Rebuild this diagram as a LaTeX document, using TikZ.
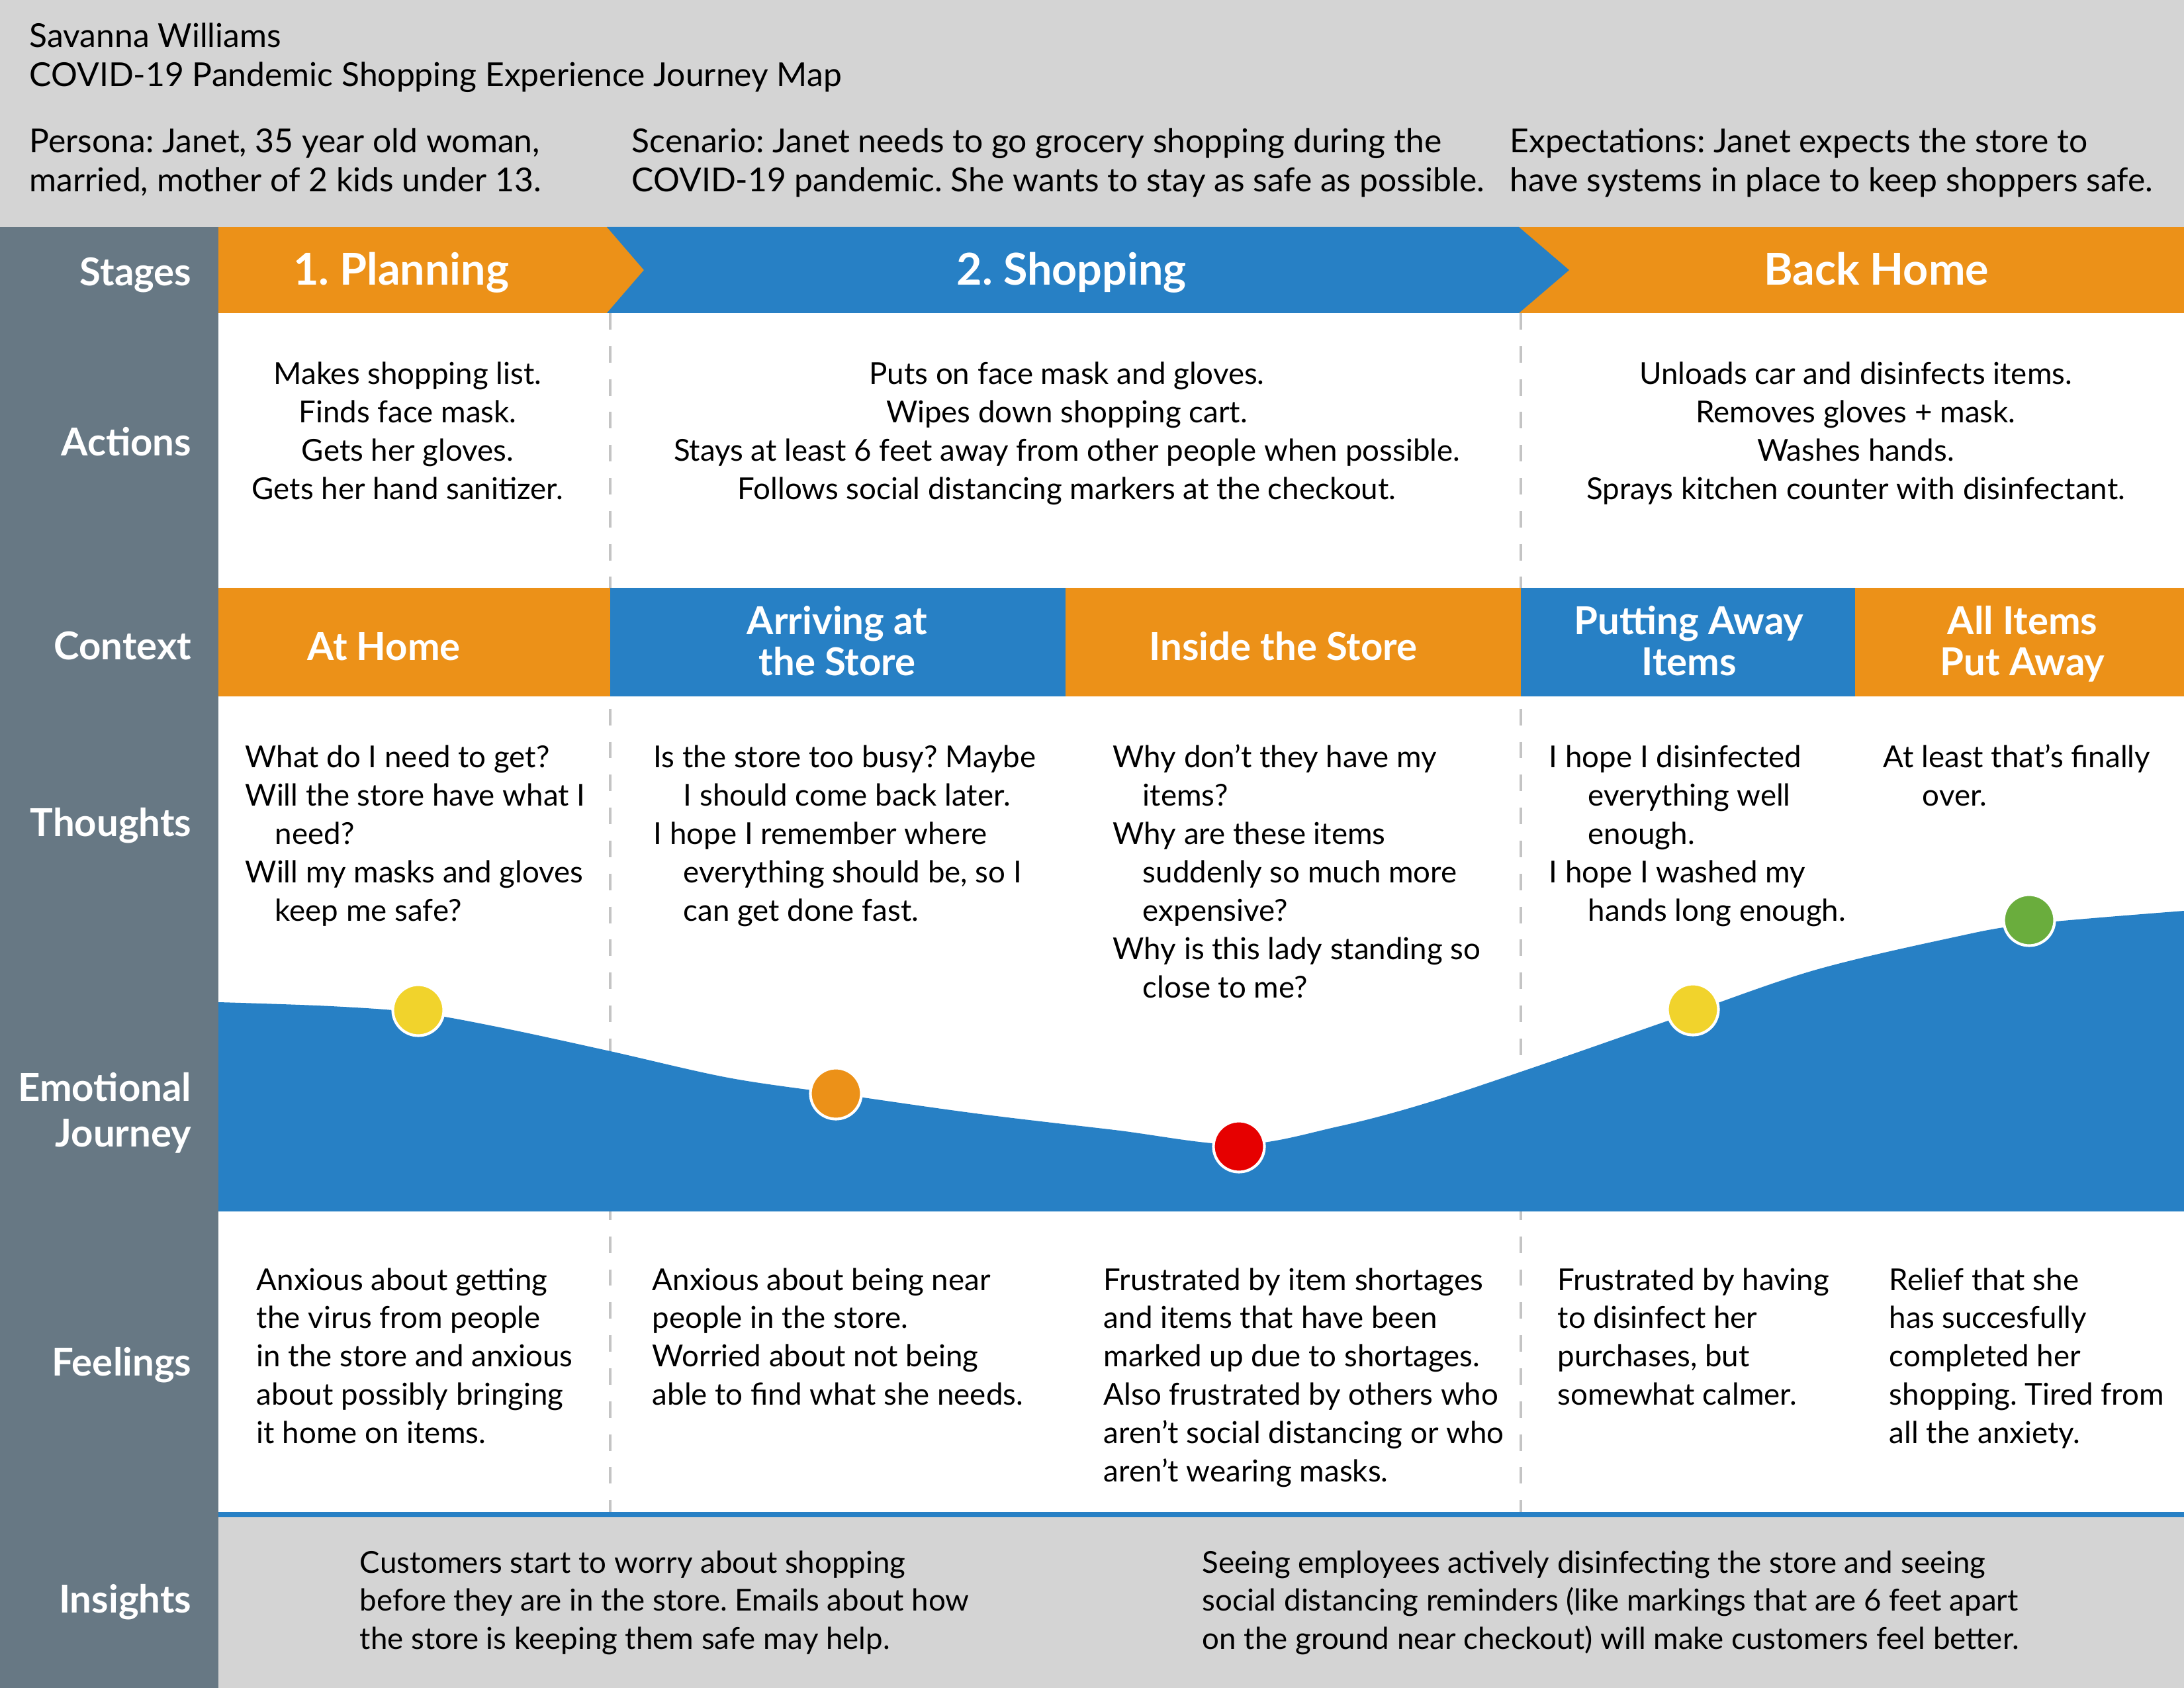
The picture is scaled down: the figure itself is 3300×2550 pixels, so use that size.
\documentclass[tikz,border=0pt]{standalone}
\usepackage{fontspec}
\setmainfont{Lato}
\frenchspacing
\newlength\pxu
\setlength\pxu{0.2409pt}
\newcommand\hdrfont{\fontsize{12pt}{14.2pt}\selectfont}
\newcommand\bodyfont{\fontsize{11pt}{13.97pt}\selectfont}
\newcommand\lblfont{\fontsize{14pt}{14.9pt}\selectfont\bfseries}
\newcommand\stgfont{\fontsize{16pt}{18pt}\selectfont\bfseries}
\newcommand\ind{\hspace*{45\pxu}}
\newcommand\wideind{\hspace*{59\pxu}}
\definecolor{hdrgray}{HTML}{D4D4D4}
\definecolor{slate}{HTML}{677884}
\definecolor{jorange}{HTML}{EC9118}
\definecolor{jblue}{HTML}{2780C5}
\definecolor{jyellow}{HTML}{F1D32C}
\definecolor{jred}{HTML}{E60000}
\definecolor{jgreen}{HTML}{6AAD3D}
\definecolor{dashgray}{HTML}{C4C4C4}
\tikzset{
  lefttext/.style={inner sep=0pt, anchor=base west},
  midtext/.style={inner sep=0pt, anchor=base},
  rowlabel/.style={inner sep=0pt, anchor=base east, text=white, font=\lblfont},
  ctxlabel/.style={inner sep=0pt, anchor=base, text=white},
  stagelabel/.style={inner sep=0pt, anchor=base, text=white, font=\stgfont},
  divider/.style={draw=dashgray, line width=1pt, dash pattern=on 6pt off 6pt},
  mooddot/.style={circle, inner sep=0pt, minimum size=77\pxu, draw=white, line width=1pt}
}
\begin{document}
\begin{tikzpicture}[x=0.2409pt,y=-0.2409pt]
\useasboundingbox (0,0) rectangle (3300,2550);
% backgrounds
\fill[white] (0,0) rectangle (3300,2550);
\fill[hdrgray] (0,0) rectangle (3300,343);
\fill[slate] (0,343) rectangle (330,2550);
\fill[hdrgray] (330,2292) rectangle (3300,2550);
\fill[jblue] (330,2284) rectangle (3300,2292);

% column dividers
\draw[divider] (922,473) -- (922,2284);
\draw[divider] (2298,473) -- (2298,2284);

% stage band
\fill[jorange] (330,343) rectangle (3300,473);
\fill[jblue] (917,343) -- (2295,343) -- (2371,408) -- (2295,473) -- (917,473) -- (973,408) -- cycle;

% context row
\fill[jorange] (330,888) rectangle (922,1052);
\fill[jblue] (922,888) rectangle (1610,1052);
\fill[jorange] (1610,888) rectangle (2298,1052);
\fill[jblue] (2298,888) rectangle (2803,1052);
\fill[jorange] (2803,888) rectangle (3300,1052);

% emotional curve
\fill[jblue] plot[smooth, tension=0.55] coordinates {(330,1514) (500,1520) (632,1530) (760,1553) (922,1588) (1100,1628) (1263,1652) (1474,1682) (1684,1707) (1872,1729) (2021,1702) (2150,1668) (2316,1613) (2526,1540) (2737,1467) (2947,1417) (3066,1396) (3300,1376)} -- (3300,1830) -- (330,1830) -- cycle;

\node[mooddot, fill=jyellow] (dot1) at (632,1526) {};
\node[mooddot, fill=jorange] (dot2) at (1263,1652) {};
\node[mooddot, fill=jred] (dot3) at (1872,1732) {};
\node[mooddot, fill=jyellow] (dot4) at (2558,1525) {};
\node[mooddot, fill=jgreen] (dot5) at (3066,1390) {};

% header
\node[lefttext] (author) at (44,72) {\parbox[t]{2000\pxu}{\raggedright\hdrfont Savanna Williams\\COVID-19 Pandemic Shopping Experience Journey Map}};
\node[lefttext] (persona) at (44,231) {\parbox[t]{900\pxu}{\raggedright\hdrfont Persona: Janet, 35 year old woman,\\married, mother of 2 kids under 13.}};
\node[lefttext] (scenario) at (954,231) {\parbox[t]{1320\pxu}{\raggedright\hdrfont Scenario: Janet needs to go grocery shopping during the\\COVID-19 pandemic. She wants to stay as safe as possible.}};
\node[lefttext] (expect) at (2281,231) {\parbox[t]{1010\pxu}{\raggedright\hdrfont Expectations: Janet expects the store to\\have systems in place to keep shoppers safe.}};

% row labels
\node[rowlabel] (lstages) at (290,432) {Stages};
\node[rowlabel] (lactions) at (290,689) {Actions};
\node[rowlabel] (lcontext) at (290,997) {Context};
\node[rowlabel] (lthoughts) at (290,1264) {Thoughts};
\node[rowlabel] (lemotion) at (290,1664) {\parbox[t]{300\pxu}{\raggedleft\fontsize{14pt}{16.6pt}\selectfont\bfseries Emotional\\Journey}};
\node[rowlabel] (lfeelings) at (290,2078) {Feelings};
\node[rowlabel] (linsights) at (290,2436) {Insights};

% stages
\node[stagelabel] (s1) at (606,431) {1. Planning};
\node[stagelabel] (s2) at (1619,431) {2. Shopping};
\node[stagelabel] (s3) at (2835,431) {Back Home};

% actions
\node[midtext] (a1) at (616,581) {\parbox[t]{580\pxu}{\centering\bodyfont Makes shopping list.\\Finds face mask.\\Gets her gloves.\\Gets her hand sanitizer.}};
\node[midtext] (a2) at (1612,581) {\parbox[t]{1360\pxu}{\centering\bodyfont Puts on face mask and gloves.\\Wipes down shopping cart.\\Stays at least 6 feet away from other people when possible.\\Follows social distancing markers at the checkout.}};
\node[midtext] (a3) at (2804,581) {\parbox[t]{990\pxu}{\centering\bodyfont Unloads car and disinfects items.\\Removes gloves + mask.\\Washes hands.\\Sprays kitchen counter with disinfectant.}};

% context labels
\node[ctxlabel] (c1) at (580,998) {\lblfont At Home};
\node[ctxlabel] (c2) at (1265,959) {\parbox[t]{650\pxu}{\centering\lblfont Arriving at\\the Store}};
\node[ctxlabel] (c3) at (1939,998) {\lblfont Inside the Store};
\node[ctxlabel] (c4) at (2552,959) {\parbox[t]{500\pxu}{\centering\lblfont Putting Away\\Items}};
\node[ctxlabel] (c5) at (3056,959) {\parbox[t]{490\pxu}{\centering\lblfont All Items\\Put Away}};

% thoughts
\node[lefttext] (t1) at (370,1160) {\parbox[t]{560\pxu}{\raggedright\bodyfont What do I need to get?\\Will the store have what I\\\ind need?\\Will my masks and gloves\\\ind keep me safe?}};
\node[lefttext] (t2) at (987,1160) {\parbox[t]{660\pxu}{\raggedright\bodyfont Is the store too busy? Maybe\\\ind I should come back later.\\I hope I remember where\\\ind everything should be, so I\\\ind can get done fast.}};
\node[lefttext] (t3) at (1681,1160) {\parbox[t]{620\pxu}{\raggedright\bodyfont Why don’t they have my\\\ind items?\\Why are these items\\\ind suddenly so much more\\\ind expensive?\\Why is this lady standing so\\\ind close to me?}};
\node[lefttext] (t4) at (2340,1160) {\parbox[t]{500\pxu}{\raggedright\bodyfont I hope I disinfected\\\wideind everything well\\\wideind enough.\\I hope I washed my\\\wideind hands long enough.}};
\node[lefttext] (t5) at (2845,1160) {\parbox[t]{450\pxu}{\raggedright\bodyfont At least that’s finally\\\wideind over.}};

% feelings
\node[lefttext] (f1) at (387,1949) {\parbox[t]{540\pxu}{\raggedright\bodyfont Anxious about getting\\the virus from people\\in the store and anxious\\about possibly bringing\\it home on items.}};
\node[lefttext] (f2) at (985,1949) {\parbox[t]{640\pxu}{\raggedright\bodyfont Anxious about being near\\people in the store.\\Worried about not being\\able to find what she needs.}};
\node[lefttext] (f3) at (1667,1949) {\parbox[t]{630\pxu}{\raggedright\bodyfont Frustrated by item shortages\\and items that have been\\marked up due to shortages.\\Also frustrated by others who\\aren’t social distancing or who\\aren’t wearing masks.}};
\node[lefttext] (f4) at (2353,1949) {\parbox[t]{450\pxu}{\raggedright\bodyfont Frustrated by having\\to disinfect her\\purchases, but\\somewhat calmer.}};
\node[lefttext] (f5) at (2854,1949) {\parbox[t]{440\pxu}{\raggedright\bodyfont Relief that she\\has succesfully\\completed her\\shopping. Tired from\\all the anxiety.}};

% insights
\node[lefttext] (i1) at (543,2376) {\parbox[t]{1100\pxu}{\raggedright\bodyfont Customers start to worry about shopping\\before they are in the store. Emails about how\\the store is keeping them safe may help.}};
\node[lefttext] (i2) at (1816,2376) {\parbox[t]{1400\pxu}{\raggedright\bodyfont Seeing employees actively disinfecting the store and seeing\\social distancing reminders (like markings that are 6 feet apart\\on the ground near checkout) will make customers feel better.}};
\end{tikzpicture}
\end{document}
